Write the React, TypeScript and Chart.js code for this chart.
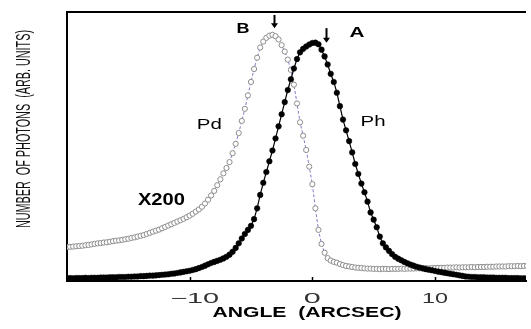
import React, { useEffect, useRef } from "react";
import { Chart, registerables } from "chart.js";

Chart.register(...registerables);

// Sampling grid of the angle axis (arcsec)
const ANGLE_START = -20;
const ANGLE_STEP = 0.25;

// Pd (open circles, "B", x200), arbitrary units, one value per 0.25 arcsec from -20 to 17.5
const PD_COUNTS = [
  12.6, 12.7, 12.8, 12.9, 13.0, 13.1, 13.3, 13.4, 13.6, 13.8,
  14.0, 14.1, 14.3, 14.4, 14.6, 14.8, 15.0, 15.1, 15.3, 15.5,
  15.7, 16.0, 16.2, 16.5, 16.8, 17.1, 17.5, 17.9, 18.3, 18.7,
  19.1, 19.6, 20.1, 20.6, 21.1, 21.6, 22.1, 22.6, 23.1, 23.7,
  24.3,
  25.0, 25.8, 26.6, 27.6, 28.8, 30.2, 31.8, 33.5, 35.6, 37.8,
  40.0, 42.0, 44.2, 47.5, 51.0, 55.0, 59.5, 64.0, 69.0, 74.0,
  78.8, 83.0, 86.8, 89.0, 90.4, 91.2, 91.5, 91.0, 89.8, 87.7,
  85.3, 82.3, 78.5, 73.0, 66.0, 59.0, 54.0, 48.7, 42.5, 36.0,
  27.0, 19.0, 13.8, 10.5, 8.5, 7.6, 7.1, 6.8, 6.3, 5.9,
  5.6, 5.4, 5.2, 5.0, 4.9, 4.8, 4.7, 4.6, 4.6, 4.5,
  4.5, 4.4, 4.5, 4.5, 4.4, 4.5, 4.5, 4.5, 4.6, 4.5,
  4.6, 4.6, 4.6, 4.7, 4.7, 4.7, 4.8, 4.7, 4.8, 4.8,
  4.9, 4.9, 4.9, 5.0, 5.0, 5.0, 5.1, 5.0, 5.1, 5.1,
  5.1, 5.2, 5.1, 5.2, 5.2, 5.2, 5.3, 5.3, 5.3, 5.4,
  5.4, 5.4, 5.4, 5.5, 5.5, 5.5, 5.6, 5.5, 5.6, 5.6,
];

// Ph (filled circles, "A"), arbitrary units, same grid
const PH_COUNTS = [
  1.0, 1.1, 1.0, 1.1, 1.1, 1.1, 1.2, 1.1, 1.2, 1.2,
  1.2, 1.3, 1.3, 1.3, 1.4, 1.4, 1.4, 1.5, 1.5, 1.5,
  1.6, 1.6, 1.7, 1.7, 1.8, 1.8, 1.9, 2.0, 2.0, 2.1,
  2.2, 2.3, 2.4, 2.5, 2.7, 2.8, 3.0, 3.2, 3.4, 3.6,
  3.8,
  4.1, 4.4, 4.8, 5.2, 5.7, 6.2, 6.7, 7.1, 7.5, 7.9,
  8.4, 9.0, 9.8, 10.9, 12.3, 14.0, 15.8, 17.5, 19.0, 20.5,
  23.0, 27.0, 32.0, 36.5, 40.5, 44.5, 48.5, 53.0, 57.5, 62.0,
  66.5, 71.0, 75.0, 79.0, 82.5, 85.0, 86.3, 87.2, 87.9, 88.5,
  88.6, 88.0, 86.0, 83.5, 80.5, 77.0, 74.0, 70.0, 65.0, 60.0,
  56.0, 52.0, 47.8, 43.5, 39.8, 36.2, 33.0, 29.5, 25.5, 22.8,
  20.0, 16.5, 14.0, 12.5, 11.2, 10.0, 9.0, 8.3, 7.7, 7.1,
  6.6, 6.1, 5.7, 5.3, 5.0, 4.7, 4.4, 4.2, 4.0, 3.7,
  3.5, 3.3, 3.1, 2.9, 2.7, 2.5, 2.3, 2.1, 1.9, 1.7,
  1.6, 1.5, 1.5, 1.4, 1.4, 1.4, 1.3, 1.3, 1.3, 1.2,
  1.2, 1.2, 1.2, 1.1, 1.1, 1.1, 1.1, 1.0, 1.0, 1.0,
];

const ANGLES = PD_COUNTS.map((_, i) => ANGLE_START + i * ANGLE_STEP);

const X_TICKS = [-10, 0, 10];
const X_TICK_LABELS = ["\u221210", "0", "10"];
const X_TITLE = "ANGLE  (ARCSEC)";
const Y_TITLE = "NUMBER  OF PHOTONS  (ARB. UNITS)";

// Annotations in data coordinates
const LABELS = [
  { text: "B", x: -5.65, y: 93.5, bold: true, size: 14, w: 13 },
  { text: "A", x: 3.65, y: 92.0, bold: true, size: 14, w: 15 },
  { text: "Pd", x: -8.4, y: 57.8, bold: false, size: 14, w: 25 },
  { text: "Ph", x: 4.95, y: 59.0, bold: false, size: 14, w: 25 },
  { text: "X200", x: -12.3, y: 29.8, bold: true, size: 16, w: 47 },
];
const ARROWS = [
  { x: -3.15, from: 98.9, to: 94.0 },
  { x: 1.13, from: 94.0, to: 88.6 },
];

const FONT = '"Liberation Sans", Arial, sans-serif';
const NARROW = '"Liberation Sans Narrow", "Liberation Sans", Arial, sans-serif';

function drawText(
  ctx: CanvasRenderingContext2D,
  text: string,
  cx: number,
  cy: number,
  font: string,
  targetW: number,
  sy = 1,
  rot = 0,
  color = "#000"
) {
  ctx.save();
  ctx.font = font;
  const w = ctx.measureText(text).width || 1;
  ctx.translate(cx, cy);
  ctx.rotate(rot);
  ctx.scale(targetW / w, sy);
  ctx.textAlign = "center";
  ctx.textBaseline = "middle";
  ctx.fillStyle = color;
  ctx.fillText(text, 0, 0);
  ctx.restore();
}

const decorPlugin = {
  id: "decor",
  afterDraw(chart: any) {
    const ctx: CanvasRenderingContext2D = chart.ctx;
    const area = chart.chartArea;
    const xs = chart.scales.x;
    const ys = chart.scales.y;
    ctx.save();
    // top frame line
    ctx.strokeStyle = "#000";
    ctx.lineWidth = 2;
    ctx.beginPath();
    ctx.moveTo(area.left - 1, area.top);
    ctx.lineTo(area.right, area.top);
    ctx.stroke();
    // inner tick marks
    ctx.lineWidth = 1.5;
    X_TICKS.forEach((t) => {
      const px = Math.round(xs.getPixelForValue(t)) + 0.5;
      ctx.beginPath();
      ctx.moveTo(px, area.bottom);
      ctx.lineTo(px, area.bottom - 4);
      ctx.stroke();
    });
    // tick labels
    X_TICKS.forEach((t, i) => {
      const px = xs.getPixelForValue(t);
      const lab = X_TICK_LABELS[i];
      const w = lab.length === 3 ? 49 : lab.length === 2 ? 26 : 17;
      const off = lab.length === 3 ? 5 : 0;
      drawText(ctx, lab, px + off, area.bottom + 18, `14px ${FONT}`, w, 1, 0, "#333");
    });
    // axis titles
    drawText(ctx, X_TITLE, 307, area.bottom + 32, `bold 14px ${FONT}`, 189);
    drawText(ctx, Y_TITLE, 24, 129, `14px ${NARROW}`, 198, 1.5, -Math.PI / 2, "#111");
    // labels
    LABELS.forEach((l) => {
      drawText(
        ctx,
        l.text,
        xs.getPixelForValue(l.x),
        ys.getPixelForValue(l.y),
        `${l.bold ? "bold " : ""}${l.size}px ${FONT}`,
        l.w
      );
    });
    // arrows
    ARROWS.forEach((a) => {
      const px = Math.round(xs.getPixelForValue(a.x)) + 0.5;
      const y1 = ys.getPixelForValue(a.from);
      const y2 = ys.getPixelForValue(a.to);
      ctx.strokeStyle = "#000";
      ctx.fillStyle = "#000";
      ctx.lineWidth = 2;
      ctx.beginPath();
      ctx.moveTo(px, y1);
      ctx.lineTo(px, y2 - 4);
      ctx.stroke();
      ctx.beginPath();
      ctx.moveTo(px - 3.5, y2 - 5);
      ctx.lineTo(px + 3.5, y2 - 5);
      ctx.lineTo(px, y2);
      ctx.closePath();
      ctx.fill();
    });
    ctx.restore();
  },
};

export default function App() {
  const ref = useRef<HTMLCanvasElement | null>(null);
  useEffect(() => {
    if (!ref.current) return;
    const chart = new Chart(ref.current, {
      type: "line",
      data: {
        datasets: [
          {
            label: "Ph",
            data: ANGLES.map((a, i) => ({ x: a, y: PH_COUNTS[i] })),
            borderColor: "#000",
            borderWidth: 1.2,
            pointRadius: 2.8,
            pointBackgroundColor: "#000",
            pointBorderColor: "#000",
            pointBorderWidth: 0.5,
            tension: 0,
            order: 0,
          },
          {
            label: "Pd",
            data: ANGLES.map((a, i) => ({ x: a, y: PD_COUNTS[i] })),
            borderColor: "#7d7dc8",
            borderWidth: 1,
            borderDash: [3, 2],
            pointRadius: 2.6,
            pointBackgroundColor: "#fff",
            pointBorderColor: "#8c8c8c",
            pointBorderWidth: 1,
            tension: 0,
            order: 1,
          },
        ],
      },
      options: {
        animation: false,
        responsive: false,
        maintainAspectRatio: false,
        devicePixelRatio: 1,
        layout: { padding: { top: 12, right: 0, bottom: 0, left: 0 } },
        plugins: {
          legend: { display: false },
          tooltip: { enabled: false },
          title: { display: false },
        },
        scales: {
          x: {
            type: "linear",
            min: -20,
            max: 17.42,
            ticks: { display: false },
            grid: { display: false },
            border: { display: true, color: "#000", width: 2 },
            afterFit: (s: any) => {
              s.height = 48;
            },
          },
          y: {
            type: "linear",
            min: 0,
            max: 100,
            ticks: { display: false },
            grid: { display: false },
            border: { display: true, color: "#000", width: 2 },
            afterFit: (s: any) => {
              s.width = 67;
            },
          },
        },
      } as any,
      plugins: [decorPlugin],
    });
    return () => chart.destroy();
  }, []);
  return (
    <div style={{ position: "absolute", left: 0, top: 0, width: 531, height: 329, background: "#fff" }}>
      <canvas ref={ref} width={531} height={329} style={{ width: 531, height: 329, display: "block" }} />
    </div>
  );
}
